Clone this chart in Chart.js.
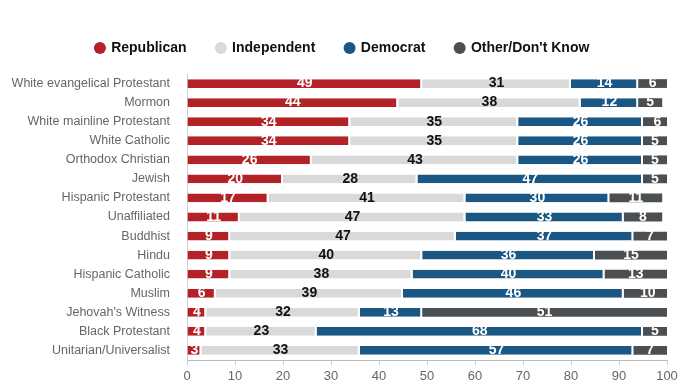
<!DOCTYPE html>
<html>
<head>
<meta charset="utf-8">
<script src="https://cdn.jsdelivr.net/npm/chart.js@4/dist/chart.umd.min.js"></script>
<style>
  html, body { margin: 0; padding: 0; background: #fff; }
  #wrap { width: 678px; height: 381px; }
</style>
</head>
<body>
<div id="wrap"><canvas id="c" width="678" height="381"></canvas></div>
<script>
const categories = [
  "White evangelical Protestant", "Mormon", "White mainline Protestant", "White Catholic",
  "Orthodox Christian", "Jewish", "Hispanic Protestant", "Unaffiliated", "Buddhist", "Hindu",
  "Hispanic Catholic", "Muslim", "Jehovah's Witness", "Black Protestant", "Unitarian/Universalist"
];
const republican  = [49, 44, 34, 34, 26, 20, 17, 11, 9, 9, 9, 6, 4, 4, 3];
const independent = [31, 38, 35, 35, 43, 28, 41, 47, 47, 40, 38, 39, 32, 23, 33];
const democrat    = [14, 12, 26, 26, 26, 47, 30, 33, 37, 36, 40, 46, 13, 68, 57];
const other       = [6, 5, 6, 5, 5, 5, 11, 8, 7, 15, 13, 10, 51, 5, 7];
const xTicks = [0, 10, 20, 30, 40, 50, 60, 70, 80, 90, 100];

const seriesNames = ["Republican", "Independent", "Democrat", "Other/Don't Know"];
const seriesColors = ["#b22227", "#d9d9d9", "#1a5785", "#4b4f52"];
const labelColors = ["#ffffff", "#111111", "#ffffff", "#ffffff"];
const FONT = "'Liberation Sans', Arial, sans-serif";

const valueLabels = {
  id: 'valueLabels',
  afterDatasetsDraw(chart) {
    const ctx = chart.ctx;
    ctx.save();
    ctx.font = "bold 14px " + FONT;
    ctx.textAlign = 'center';
    ctx.textBaseline = 'middle';
    chart.data.datasets.forEach((ds, di) => {
      const meta = chart.getDatasetMeta(di);
      ctx.fillStyle = labelColors[di];
      meta.data.forEach((el, i) => {
        const v = ds.data[i];
        if (!v) return;
        const xc = (el.x + el.base) / 2;
        ctx.fillText(String(v), xc, el.y);
      });
    });
    ctx.restore();
  }
};

const legendFit = {
  id: 'legendFit',
  beforeInit(chart) {
    const lg = chart.legend;
    if (!lg) return;
    const orig = lg.fit;
    lg.fit = function () {
      orig.call(this);
      this.height += 9;
    };
    const od = lg.draw;
    lg.draw = function (area) {
      this.ctx.save();
      this.ctx.translate(9, 0);
      od.call(this, area);
      this.ctx.restore();
    };
  }
};

const datasets = [republican, independent, democrat, other].map((arr, k) => ({
  label: seriesNames[k],
  data: arr,
  backgroundColor: seriesColors[k],
  borderColor: '#ffffff',
  borderWidth: k < 3 ? { left: 0, right: 2, top: 0, bottom: 0 } : 0,
  borderSkipped: false,
  barPercentage: 0.46,
  categoryPercentage: 1.0
}));

new Chart(document.getElementById('c'), {
  type: 'bar',
  data: { labels: categories, datasets },
  options: {
    indexAxis: 'y',
    responsive: false,
    animation: false,
    devicePixelRatio: 1,
    layout: { padding: { top: 11, right: 11, bottom: 0, left: 0 } },
    plugins: {
      tooltip: { enabled: false },
      legend: {
        position: 'top',
        labels: {
          usePointStyle: true,
          pointStyle: 'circle',
          boxHeight: 8.5,
          boxWidth: 8.5,
          padding: 30,
          color: '#111',
          font: { family: FONT, size: 14, weight: 'bold' },
          generateLabels(chart) {
            return Chart.defaults.plugins.legend.labels.generateLabels(chart).map(l => ({
              ...l, lineWidth: 0, strokeStyle: l.fillStyle
            }));
          }
        }
      }
    },
    scales: {
      x: {
        stacked: true,
        min: 0,
        max: 100,
        afterBuildTicks(scale) { scale.ticks = xTicks.map(v => ({ value: v })); },
        afterFit(scale) { scale.height = 21; },
        grid: { drawOnChartArea: false, drawTicks: true, tickLength: 5, color: '#cccccc' },
        border: { display: true, color: '#bbbbbb' },
        ticks: { color: '#666', padding: 0, font: { family: FONT, size: 13, lineHeight: 1.7 } }
      },
      y: {
        stacked: true,
        afterFit(scale) { scale.width = 187; },
        grid: { display: true, drawOnChartArea: false, drawTicks: true, tickLength: 17, color: 'rgba(0,0,0,0)' },
        border: { display: true, color: '#d0d0d0' },
        ticks: { color: '#666', padding: 0, font: { family: FONT, size: 12.5 } }
      }
    }
  },
  plugins: [valueLabels, legendFit]
});
</script>
</body>
</html>
